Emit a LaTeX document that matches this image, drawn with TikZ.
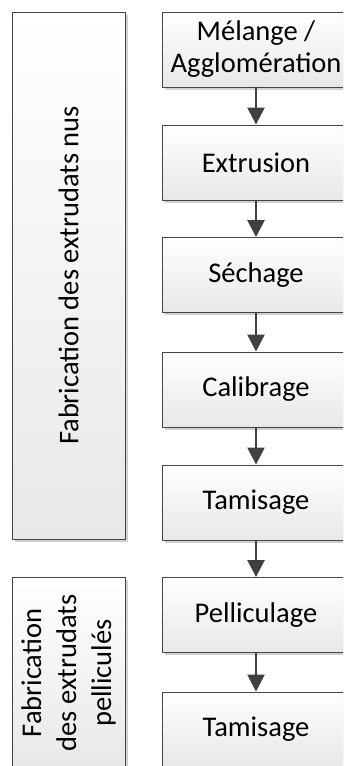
\documentclass[tikz,border=0pt]{standalone}
\usepackage{fontspec}
\setmainfont{Carlito}
\usetikzlibrary{arrows.meta,shadows}
\definecolor{edgecol}{HTML}{454545}
\definecolor{botcol}{HTML}{E8E8E8}
\definecolor{arrcol}{HTML}{404040}
\tikzset{
  box/.style={draw=edgecol, line width=0.9pt, top color=white, bottom color=botcol,
    inner sep=0pt, align=center, font=\fontsize{28.5}{32}\selectfont,
    drop shadow={shadow xshift=2.5pt, shadow yshift=-2.5pt, fill=black!30, opacity=0.6}},
  stepbox/.style={box, minimum width=188pt, minimum height=75pt},
  lbl/.style={rotate=90, align=center, font=\fontsize{28.5}{35}\selectfont, inner sep=0pt},
  flow/.style={draw=arrcol, line width=2.6pt, -{Triangle[length=17pt,width=17pt]}, shorten >=0pt}
}
\begin{document}
\begin{tikzpicture}[x=1pt,y=-1pt]
\useasboundingbox (0,0) rectangle (343,766);
\clip (0,0) rectangle (343,766);
% left group boxes
\node[box, minimum width=113pt, minimum height=527pt] (g1) at (68.5,275.5) {};
\node[lbl] (g1t) at (g1.center) {Fabrication des extrudats nus};
\node[box, minimum width=113pt, minimum height=192pt] (g2) at (68.5,673) {};
\node[lbl] (g2t) at (g2.center) {Fabrication\\des extrudats\\pelliculés};
% steps
\node[stepbox] (s1) at (256,49.5) {Mélange /\\Agglomération};
\node[stepbox] (s2) at (256,162.5) {Extrusion};
\node[stepbox] (s3) at (256,275) {Séchage};
\node[stepbox] (s4) at (256,389.5) {Calibrage};
\node[stepbox] (s5) at (256,502.5) {Tamisage};
\node[stepbox] (s6) at (256,615) {Pelliculage};
\node[stepbox] (s7) at (256,729.5) {Tamisage};
% arrows
\draw[flow] (s1) -- (s2);
\draw[flow] (s2) -- (s3);
\draw[flow] (s3) -- (s4);
\draw[flow] (s4) -- (s5);
\draw[flow] (s5) -- (s6);
\draw[flow] (s6) -- (s7);
\end{tikzpicture}
\end{document}
